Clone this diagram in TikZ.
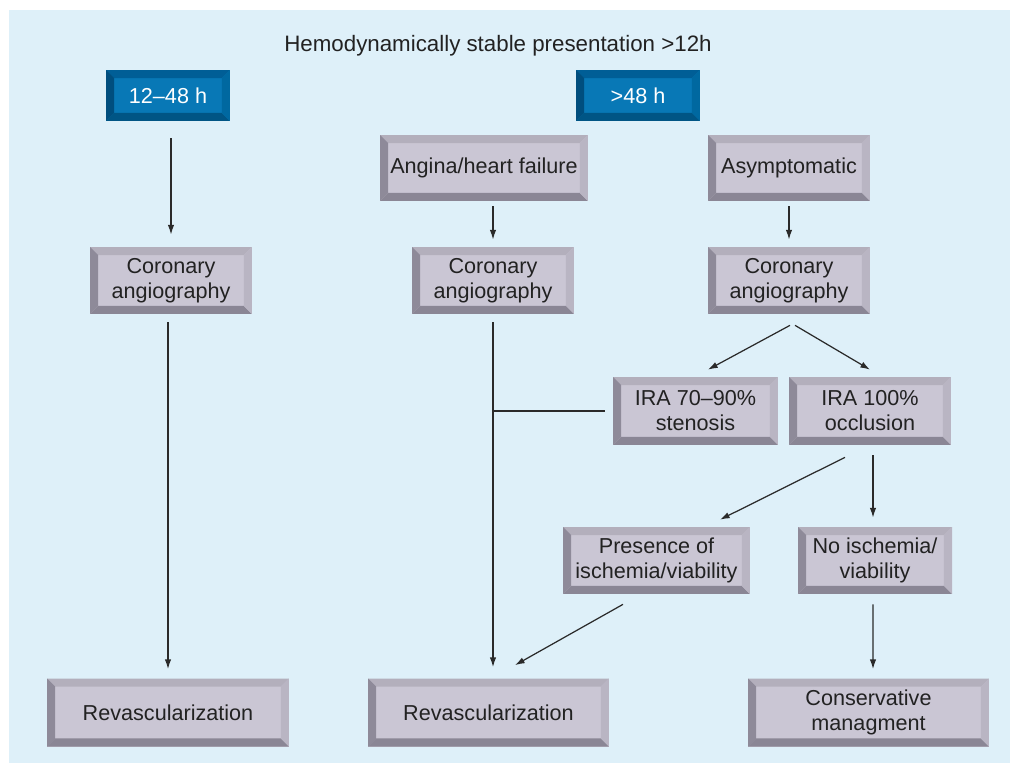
\documentclass[tikz,border=0pt]{standalone}
\usepackage{fontspec}
\setmainfont{Liberation Sans}
\usetikzlibrary{arrows.meta,calc}
\definecolor{bgblue}{HTML}{DEF0F9}
\definecolor{gface}{HTML}{CAC6D4}
\definecolor{gtop}{HTML}{B3AFBC}
\definecolor{gleft}{HTML}{8E8A99}
\definecolor{gbot}{HTML}{8A8695}
\definecolor{gright}{HTML}{B9B5C3}
\definecolor{bface}{HTML}{0878B6}
\definecolor{btop}{HTML}{005E96}
\definecolor{bleft}{HTML}{004E7E}
\definecolor{bbot}{HTML}{005585}
\definecolor{bright}{HTML}{0068A0}
\definecolor{txt}{HTML}{222222}
\definecolor{lnc}{HTML}{2A2A2A}
\newcommand{\bv}{4.6pt}
\newcommand{\bevelpic}[4]{%
  \coordinate (pnw) at (path picture bounding box.north west);
  \coordinate (pne) at (path picture bounding box.north east);
  \coordinate (psw) at (path picture bounding box.south west);
  \coordinate (pse) at (path picture bounding box.south east);
  \fill[#1] (pnw) -- (pne) -- ([xshift=-\bv,yshift=-\bv]pne) -- ([xshift=\bv,yshift=-\bv]pnw) -- cycle;
  \fill[#2] (pnw) -- ([xshift=\bv,yshift=-\bv]pnw) -- ([xshift=\bv,yshift=\bv]psw) -- (psw) -- cycle;
  \fill[#3] (psw) -- ([xshift=\bv,yshift=\bv]psw) -- ([xshift=-\bv,yshift=\bv]pse) -- (pse) -- cycle;
  \fill[#4] (pse) -- ([xshift=-\bv,yshift=\bv]pse) -- ([xshift=-\bv,yshift=-\bv]pne) -- (pne) -- cycle;
}
\tikzset{
  basebox/.style={rectangle, draw=none, align=center, inner sep=0pt,
    font=\fontsize{12.3}{14.2}\selectfont},
  graybox/.style={basebox, fill=gface, text=txt,
    path picture={\bevelpic{gtop}{gleft}{gbot}{gright}}},
  bluebox/.style={basebox, fill=bface, text=white,
    path picture={\bevelpic{btop}{bleft}{bbot}{bright}}},
  arr/.style={draw=lnc, line width=0.7pt, -{Latex[length=5.5pt,width=3.6pt]}},
  plainline/.style={draw=lnc, line width=0.7pt},
}
\begin{document}
\begin{tikzpicture}[x=0.02cm,y=-0.02cm]
\useasboundingbox (0,0) rectangle (1010,763);
\fill[bgblue] (9,10) rectangle (1010,763);

\node[text=txt, font=\fontsize{12.7}{14.2}\selectfont] (title) at (498,46) {Hemodynamically stable presentation >12h};

\node[bluebox, minimum width=2.48cm, minimum height=1.02cm] (b1) at (168,95.5) {12–48 h};
\node[bluebox, minimum width=2.48cm, minimum height=1.02cm] (b2) at (638,95.5) {>48 h};

\node[graybox, minimum width=4.16cm, minimum height=1.32cm] (ahf) at (484,168) {Angina/heart failure};
\node[graybox, minimum width=3.24cm, minimum height=1.32cm] (asy) at (789,168) {Asymptomatic};

\node[graybox, minimum width=3.24cm, minimum height=1.34cm] (ca1) at (171,280.5) {Coronary\\angiography};
\node[graybox, minimum width=3.24cm, minimum height=1.34cm] (ca2) at (493,280.5) {Coronary\\angiography};
\node[graybox, minimum width=3.24cm, minimum height=1.34cm] (ca3) at (789,280.5) {Coronary\\angiography};

\node[graybox, minimum width=3.3cm, minimum height=1.36cm] (ira1) at (695.5,411) {IRA 70–90\%\\stenosis};
\node[graybox, minimum width=3.24cm, minimum height=1.36cm] (ira2) at (870,411) {IRA 100\%\\occlusion};

\node[graybox, minimum width=3.74cm, minimum height=1.34cm] (pres) at (656.5,560.5) {Presence of\\ischemia/viability};
\node[graybox, minimum width=3.08cm, minimum height=1.34cm] (noi) at (875,560.5) {No ischemia/\\viability};

\node[graybox, minimum width=4.84cm, minimum height=1.36cm] (rv1) at (168,712.5) {Revascularization};
\node[graybox, minimum width=4.82cm, minimum height=1.36cm] (rv2) at (488.5,712.5) {Revascularization};
\node[graybox, minimum width=4.82cm, minimum height=1.36cm] (cons) at (868.5,712.5) {Conservative\\managment};

% connectors
\draw[arr] ($(b1.south)+(3,17)$) -- ($(ca1.north)+(0,-12)$);
\draw[arr] ($(ca1.south)+(-3,8)$) -- ($(rv1.north)+(0,-9)$);
\draw[arr] ($(ahf.south -| ca2.north)+(0,5)$) -- ($(ca2.north)+(0,-7)$);
\draw[arr] ($(asy.south)+(0,5)$) -- ($(ca3.north)+(0,-7)$);
\draw[arr] ($(ca3.south)+(1,11)$) -- ($(ira1.north)+(12.5,-7)$);
\draw[arr] ($(ca3.south)+(6,11)$) -- ($(ira2.north)+(0,-7)$);
\draw[arr] ($(ca2.south)+(0,8)$) -- ($(ca2.south |- rv2.north)+(0,-11)$);
\draw[plainline] ($(ira1.west)+(-8,0)$) -- (ira1.west -| ca2.south);
\draw[arr] ($(ira2.south)+(-25,12)$) -- ($(pres.north)+(63.5,-7)$);
\draw[arr] ($(ira2.south)+(3,10)$) -- ($(noi.north)+(-2,-9)$);
\draw[arr] ($(pres.south)+(-33.5,10)$) -- ($(rv2.north)+(26.5,-13)$);
\draw[arr] ($(noi.south)+(-2,10)$) -- ($(cons.north)+(4.5,-9)$);
\end{tikzpicture}
\end{document}
